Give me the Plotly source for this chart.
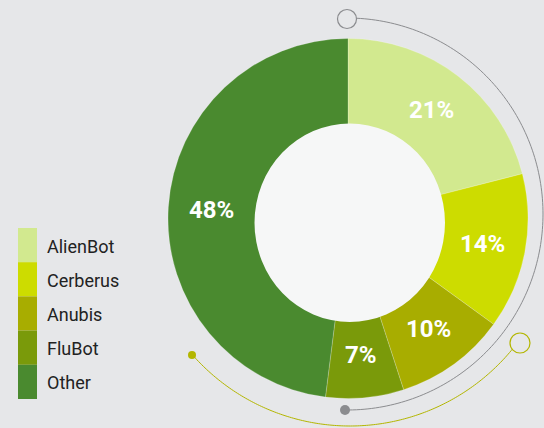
import numpy as np
import plotly.graph_objects as go

# Share of detections by malware family
families = ["AlienBot", "Cerberus", "Anubis", "FluBot", "Other"]
shares = [21, 14, 10, 7, 48]
colors = ["#d2e98f", "#cddc00", "#a8ad00", "#7a9a0a", "#4a8a2f"]

W, H = 544, 428
BG = "#e6e7e9"
HOLE_FILL = "#f6f7f7"
GRAY = "#8b8c8f"
OLIVE = "#b3b600"

# pie placement in pixels
cx, cy, r_out = 348, 218.5, 180
label_r = 137

fig = go.Figure()
fig.add_trace(go.Pie(
    labels=families,
    values=shares,
    sort=False,
    direction="clockwise",
    rotation=0,
    hole=0.5,
    marker=dict(colors=colors, line=dict(color="rgba(255,255,255,0.35)", width=0.6)),
    textinfo="none",
    showlegend=False,
    hoverinfo="label+percent",
    domain=dict(x=[(cx - r_out) / W, (cx + r_out) / W],
                y=[1 - (cy + r_out) / H, 1 - (cy - r_out) / H]),
))


def arc_path(x0, y0, r, a0, a1, n=160):
    """Polyline arc in pixel space, angles in degrees clockwise from 12 o'clock."""
    t = np.radians(np.linspace(a0, a1, n))
    xs = x0 + r * np.sin(t)
    ys = y0 - r * np.cos(t)
    return "M " + " L ".join(f"{x:.2f},{y:.2f}" for x, y in zip(xs, ys))


def ang(x0, y0, x, y):
    return np.degrees(np.arctan2(x - x0, -(y - y0))) % 360


shapes = []
annotations = []

# inner disc of the donut
shapes.append(dict(type="circle", xref="x", yref="y", x0=254.5, x1=445, y0=123.5, y1=322,
                   fillcolor=HOLE_FILL, line=dict(width=0), layer="above"))

# gray decorative ring: open circle at top, filled dot at bottom
gx, gy, gr = 347, 214, 196
g_end = ang(gx, gy, 345, 410)
shapes.append(dict(type="path", xref="x", yref="y", path=arc_path(gx, gy, gr, 2.8, g_end),
                   line=dict(color=GRAY, width=1), layer="above"))
shapes.append(dict(type="circle", xref="x", yref="y", x0=337.5, x1=356.5, y0=9.5, y1=28.5,
                   fillcolor=BG, line=dict(color=GRAY, width=1.2), layer="above"))
shapes.append(dict(type="circle", xref="x", yref="y", x0=340, x1=350, y0=405, y1=415,
                   fillcolor=GRAY, line=dict(width=0), layer="above"))

# olive decorative ring: open circle lower-right, small dot lower-left
ox, oy, orad = 350, 216, 210
o_a = ang(ox, oy, 520, 343) + 2.5
o_b = ang(ox, oy, 192, 355)
shapes.append(dict(type="path", xref="x", yref="y", path=arc_path(ox, oy, orad, o_a, o_b),
                   line=dict(color=OLIVE, width=1), layer="above"))
shapes.append(dict(type="circle", xref="x", yref="y", x0=510, x1=530, y0=333, y1=353,
                   fillcolor=BG, line=dict(color=OLIVE, width=1.2), layer="above"))
shapes.append(dict(type="circle", xref="x", yref="y", x0=188, x1=196, y0=351, y1=359,
                   fillcolor=OLIVE, line=dict(width=0), layer="above"))

# percentage labels at the middle of each slice
total = sum(shares)
start = 0.0
for v in shares:
    mid = np.radians((start + v / 2) / total * 360)
    start += v
    annotations.append(dict(x=cx + label_r * np.sin(mid), y=cy - label_r * np.cos(mid),
                            xref="x", yref="y", text=f"{v}%", showarrow=False,
                            xanchor="center", yanchor="middle",
                            font=dict(family="Roboto", size=24, color="white", weight="bold")))

# legend: stacked colour swatches with labels
lx0, lx1, ly0, step = 18, 37, 228, 34.2
for i, (name, col) in enumerate(zip(families, colors)):
    y0 = ly0 + i * step
    shapes.append(dict(type="rect", xref="x", yref="y", x0=lx0, x1=lx1, y0=y0, y1=y0 + step,
                       fillcolor=col, line=dict(width=0), layer="above"))
    annotations.append(dict(x=45, y=y0 + step / 2 + 1, xref="x", yref="y", text=name,
                            showarrow=False, xanchor="left", yanchor="middle",
                            font=dict(family="Roboto", size=18, color="#222222")))

fig.update_layout(
    width=W, height=H,
    margin=dict(l=0, r=0, t=0, b=0),
    paper_bgcolor=BG, plot_bgcolor=BG,
    xaxis=dict(range=[0, W], visible=False, domain=[0, 1], fixedrange=True),
    yaxis=dict(range=[H, 0], visible=False, domain=[0, 1], fixedrange=True),
    shapes=shapes,
    annotations=annotations,
)

fig.write_html("out.html")
